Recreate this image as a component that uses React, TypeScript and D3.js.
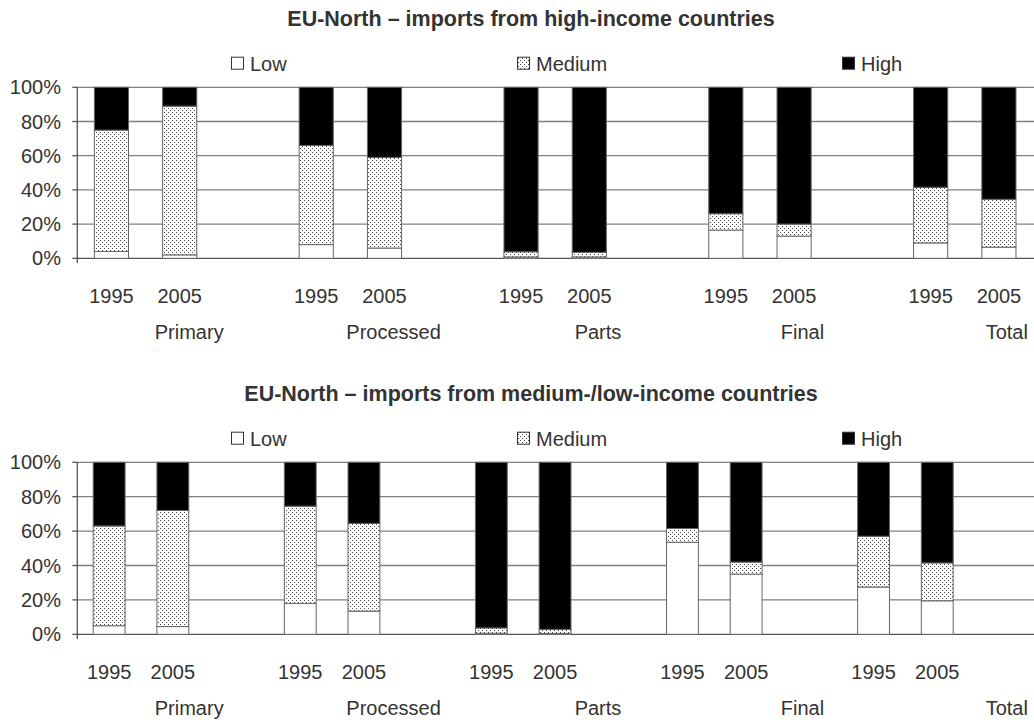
import React from "react";
import * as d3 from "d3";

const categories = ["Primary", "Processed", "Parts", "Final", "Total"];
const years = ["1995", "2005"];
const seriesNames = ["Low", "Medium", "High"];
const yTicks = [0, 20, 40, 60, 80, 100];

const titleHigh = "EU-North \u2013 imports from high-income countries";
const titleMedLow = "EU-North \u2013 imports from medium-/low-income countries";

// values per bar, order: Primary 1995, Primary 2005, Processed 1995, ... Total 2005
const highLow = [4, 2, 8, 6, 0.8, 0.8, 16.5, 13, 9, 6.5];
const highMedium = [71, 87, 58, 53, 3, 2.7, 9.6, 7, 32.5, 28];
const highHigh = [25, 11, 34, 41, 96.2, 96.5, 73.9, 80, 58.5, 65.5];

const mlLow = [5, 4.5, 18, 13.5, 0.6, 0.5, 53.5, 35, 27.5, 19.5];
const mlMedium = [58, 67.5, 56.5, 51, 3.1, 2.4, 8, 7, 29.5, 22];
const mlHigh = [37, 28, 25.5, 35.5, 96.3, 97.1, 38.5, 58, 43, 58.5];

const FONT = "'Liberation Sans', Arial, sans-serif";
const TEXT = "#333";

type ChartProps = {
  title: string;
  low: number[];
  medium: number[];
  high: number[];
  top: number;
  bottom: number;
  xEnd: number;
  extraSlots: number;
};

function Chart({ title, low, medium, high, top, bottom, xEnd, extraSlots }: ChartProps) {
  const x0 = 77.3;
  const slots: string[] = [];
  categories.forEach((c) => {
    years.forEach((y) => slots.push(c + "|" + y));
    slots.push(c + "|gap");
  });
  for (let i = 0; i < extraSlots; i++) slots.push("extra" + i);
  const x = d3.scaleBand<string>().domain(slots).range([x0, xEnd]).paddingInner(0).paddingOuter(0);
  const catX = d3.scaleBand<string>().domain(categories).range([87, 1109]);
  const y = d3.scaleLinear().domain([0, 100]).range([bottom, top]);

  const rows = categories.flatMap((c, ci) =>
    years.map((yr, yi) => {
      const i = ci * 2 + yi;
      return { key: c + "|" + yr, year: yr, vals: [low[i], medium[i], high[i]] };
    })
  );
  const stack = d3.stack<any>().keys([0, 1, 2] as any).value((d: any, k: any) => d.vals[k]);
  const series = stack(rows as any);
  const fills = ["#fff", "url(#dots)", "#000"];
  const bw = x.bandwidth() * 0.5;

  const legendY = top - 16.6;
  const legendX = [231, 517, 842];

  return (
    <g>
      <text x={531} y={top - 61} textAnchor="middle" fontFamily={FONT} fontWeight="bold" fontSize={21.5} fill={TEXT}>
        {title}
      </text>
      {seriesNames.map((s, i) => (
        <g key={s}>
          <rect x={legendX[i] + 0.5} y={legendY - 13.5} width={12} height={12} fill={fills[i]} stroke="#333" strokeWidth={1} />
          <text x={legendX[i] + 19} y={legendY} fontFamily={FONT} fontSize={20} fill={TEXT}>
            {s}
          </text>
        </g>
      ))}
      {yTicks.map((t) => (
        <line key={t} x1={x0} x2={1034} y1={y(t)} y2={y(t)} stroke={t === 0 ? "#555" : "#808080"} strokeWidth={1.3} />
      ))}
      {series.map((s, si) =>
        s.map((d: any, di: number) => {
          const r = rows[di];
          const cx = (x(r.key) as number) + x.bandwidth() / 2;
          return (
            <rect
              key={si + "-" + di}
              x={cx - bw / 2}
              y={y(d[1])}
              width={bw}
              height={Math.max(0, y(d[0]) - y(d[1]))}
              fill={fills[si]}
              stroke="#666"
              strokeWidth={1}
            />
          );
        })
      )}
      <line x1={x0} x2={x0} y1={top} y2={bottom + 5} stroke="#555" strokeWidth={1.3} />
      {yTicks.map((t) => (
        <g key={"t" + t}>
          <line x1={x0 - 5} x2={x0} y1={y(t)} y2={y(t)} stroke="#555" strokeWidth={1.3} />
          <text x={61} y={y(t)} dy="0.35em" textAnchor="end" fontFamily={FONT} fontSize={20} fill={TEXT}>
            {t + "%"}
          </text>
        </g>
      ))}
      {rows.map((r) => (
        <text
          key={"yl" + r.key}
          x={(x(r.key) as number) + x.bandwidth() / 2}
          y={bottom + 45}
          textAnchor="middle"
          fontFamily={FONT}
          fontSize={20}
          fill={TEXT}
        >
          {r.year}
        </text>
      ))}
      {categories.map((c) => (
        <text
          key={"c" + c}
          x={(catX(c) as number) + catX.bandwidth() / 2}
          y={bottom + 80.5}
          textAnchor="middle"
          fontFamily={FONT}
          fontSize={20}
          fill={TEXT}
        >
          {c}
        </text>
      ))}
    </g>
  );
}

export default function App() {
  return (
    <svg
      width={1034}
      height={722}
      style={{ position: "absolute", left: 0, top: 0, background: "#fff" }}
      xmlns="http://www.w3.org/2000/svg"
    >
      <defs>
        <pattern id="dots" width={4} height={4} patternUnits="userSpaceOnUse">
          <rect width={4} height={4} fill="#fff" />
          <rect x={0} y={0} width={1} height={1} fill="#444" />
          <rect x={2} y={2} width={1} height={1} fill="#444" />
        </pattern>
      </defs>
      <rect width={1034} height={722} fill="#fff" />
      <Chart title={titleHigh} low={highLow} medium={highMedium} high={highHigh} top={87.3} bottom={258.3} xEnd={1101.3} extraSlots={0} />
      <Chart title={titleMedLow} low={mlLow} medium={mlMedium} high={mlHigh} top={462.3} bottom={634.3} xEnd={1096.5} extraSlots={1} />
    </svg>
  );
}
